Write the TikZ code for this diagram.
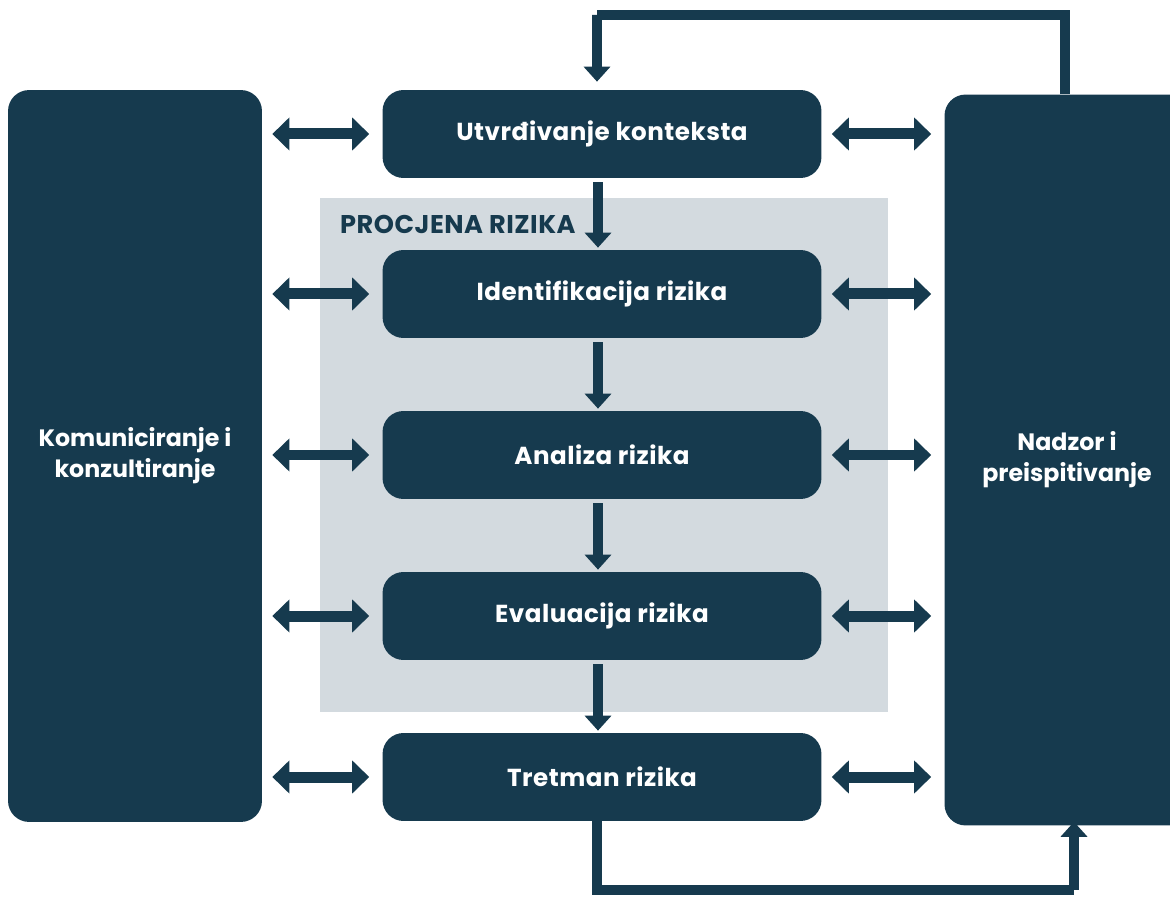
\documentclass[tikz,border=0pt]{standalone}
\usepackage{fontspec}
\setmainfont{Poppins}
\usetikzlibrary{arrows.meta}
\usetikzlibrary{positioning}
\definecolor{tamna}{HTML}{163A4E}
\definecolor{siva}{HTML}{D3DADF}

\tikzset{
  korak/.style={fill=tamna, rounded corners=0.42cm, text=white,
    font=\fontsize{14}{17}\selectfont\bfseries\addfontfeature{LetterSpace=2},
    minimum width=8.78cm, minimum height=1.76cm},
  bocni/.style={fill=tamna, rounded corners=0.42cm, text=white, align=center,
    font=\fontsize{13.5}{17.5}\selectfont\bfseries, minimum height=14.64cm},
  tok/.style={draw=tamna, line width=0.2cm,
    -{Triangle[width=0.52cm,length=0.3cm]}},
  dvosm/.style={draw=tamna, line width=0.22cm,
    {Triangle[width=0.64cm,length=0.34cm]}-{Triangle[width=0.64cm,length=0.34cm]},
    shorten <=0.2cm, shorten >=0.26cm},
  petlja/.style={draw=tamna, line width=0.2cm}
}

\begin{document}
\begin{tikzpicture}[x=0.02cm,y=-0.02cm]
\useasboundingbox (0,0) rectangle (1170,898);
\clip (0,0) rectangle (1170,898);

% procjena rizika
\fill[siva] (320,198) rectangle (888,712);
\node[anchor=west, text=tamna, font=\fontsize{14.6}{18}\selectfont\bfseries\addfontfeature{LetterSpace=2}]
  (procjena) at (334,224) {PROCJENA RIZIKA};

% koraci
\node[korak] (kontekst) at (602,134) {Utvrđivanje konteksta};
\node[korak] (ident) at (602,294) {Identifikacija rizika};
\node[korak] (analiza) at (602,455) {Analiza rizika};
\node[korak] (eval) at (602,616) {Evaluacija rizika};
\node[korak] (tretman) at (602,777) {Tretman rizika};

% bocni blokovi
\node[bocni, minimum width=5.08cm] (komun) at (135,456)
  {Komuniciranje i\\konzultiranje};
\node[bocni, minimum width=4.9cm, minimum height=14.62cm] (nadzor) at (1067,460)
  {Nadzor i\\preispitivanje};

% tok procesa
\foreach \a/\b in {kontekst/ident, ident/analiza, analiza/eval, eval/tretman}
  \draw[tok, shorten <=0.08cm, shorten >=0.04cm] ([xshift=-0.08cm]\a.south) -- ([xshift=-0.08cm]\b.north);

% dvosmjerne strelice
\foreach \k in {kontekst, ident, analiza, eval, tretman}{
  \draw[dvosm] (komun.east |- \k.west) -- (\k.west);
  \draw[dvosm] (\k.east) -- (nadzor.west |- \k.east);
}

% povratne petlje
\coordinate (gore) at (1065,15);
\coordinate (dolje) at (1074,890);
\draw[petlja] (nadzor.north -| gore) -- (gore) -- ([xshift=-0.1cm]kontekst.north |- gore);
\draw[tok, shorten >=0.16cm] ([xshift=-0.1cm]kontekst.north |- gore)
  -- ++(0,-0.1) -- ([xshift=-0.1cm]kontekst.north);
\draw[petlja] ([xshift=-0.1cm]tretman.south) -- ([xshift=-0.1cm]tretman.south |- dolje) -- (dolje);
\draw[tok, shorten >=-0.08cm] (dolje) -- (nadzor.south -| dolje);
\end{tikzpicture}
\end{document}
